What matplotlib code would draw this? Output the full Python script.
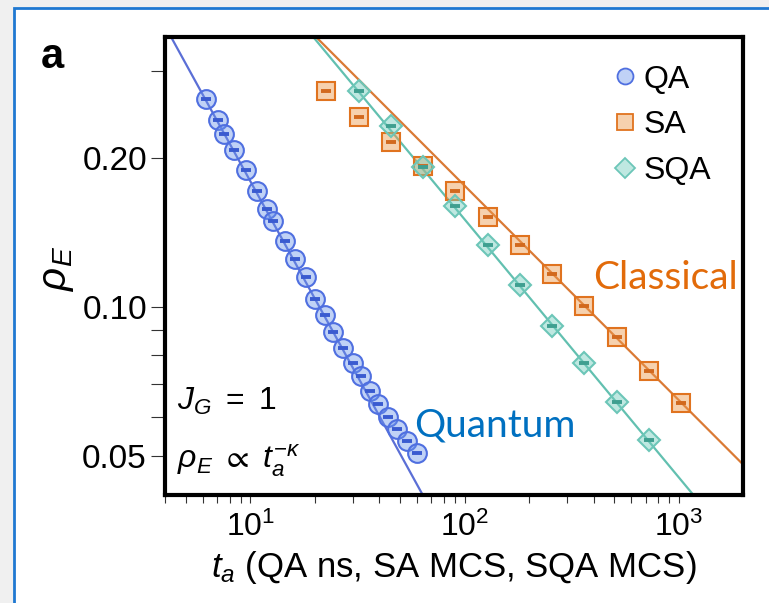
import numpy as np
import matplotlib
matplotlib.use('Agg')
import matplotlib.pyplot as plt
from matplotlib.patches import Rectangle
from matplotlib.lines import Line2D
from matplotlib.ticker import FixedLocator, NullFormatter, LogLocator

plt.rcParams['font.family'] = ['Liberation Sans', 'DejaVu Sans']
plt.rcParams['mathtext.fontset'] = 'custom'
plt.rcParams['mathtext.rm'] = 'Liberation Sans'
plt.rcParams['mathtext.it'] = 'Liberation Sans:italic'
plt.rcParams['mathtext.fallback'] = 'stixsans'

# QA (ns)
qa_t = [6.2, 7.1, 7.5, 8.4, 9.5, 10.7, 11.9, 12.7, 14.5, 16.1, 18.1, 20.1,
        22.2, 24.2, 27.2, 30.0, 32.9, 36.0, 39.6, 43.7, 48.3, 53.8, 59.9]
qa_rho = [0.263, 0.239, 0.224, 0.208, 0.189, 0.172, 0.158, 0.149, 0.136, 0.125,
          0.115, 0.104, 0.0965, 0.0893, 0.0827, 0.0771, 0.0725, 0.0679, 0.0638,
          0.0600, 0.0568, 0.0536, 0.0509]
# SA (MCS)
sa_t = [22.6, 32, 45.3, 64, 90.5, 128, 181, 256, 362, 512, 724, 1024]
sa_rho = [0.273, 0.242, 0.216, 0.193, 0.172, 0.152, 0.1335, 0.1165, 0.1006,
          0.0872, 0.0744, 0.0642]
# SQA (MCS)
sqa_t = [32, 45.3, 64, 90.5, 128, 181, 256, 362, 512, 724]
sqa_rho = [0.273, 0.232, 0.192, 0.160, 0.1335, 0.111, 0.0917, 0.0771, 0.0645, 0.054]

# power law fits rho = A * t^-kappa  (QA, SA, SQA)
fit_A = [1.10, 1.292, 1.657]
fit_kappa = [0.787, 0.433, 0.521]

labels = ['QA', 'SA', 'SQA']
markers = ['o', 's', 'D']
msizes = [13.5, 13, 11.5]
face = [(0.42, 0.58, 0.92, 0.42), (0.93, 0.60, 0.30, 0.45), (0.45, 0.80, 0.74, 0.45)]
edge = ['#4f6fe0', '#e0731f', '#6cc6b8']
dash = ['#3a5bd0', '#d2691e', '#3f9f90']
linec = ['#5b6fd6', '#da7a35', '#62c0b0']


def plot_series(ax, t, rho, i):
    tt = np.logspace(np.log10(3), np.log10(3000), 200)
    ax.plot(tt, fit_A[i] * tt ** (-fit_kappa[i]), color=linec[i], lw=1.6, zorder=2)
    ax.plot(t, rho, ls='none', marker=markers[i], ms=msizes[i], mfc=face[i],
            mec=edge[i], mew=1.5, zorder=3)
    ax.plot(t, rho, ls='none', marker='_', ms=7, mew=2.8, color=dash[i], zorder=4)


def main():
    fig = plt.figure(figsize=(7.69, 6.03), dpi=100, facecolor='#f0f0f0')
    bg = Rectangle((13.5 / 769, -0.01), 1.0, (603 - 7.5) / 603 + 0.01,
                   transform=fig.transFigure, facecolor='white',
                   edgecolor='#1f78d1', lw=2, zorder=-10)
    fig.patches.append(bg)

    ax = fig.add_axes([0.2146, 0.1791, 0.7516, 0.7595])
    plot_series(ax, qa_t, qa_rho, 0)
    plot_series(ax, sa_t, sa_rho, 1)
    plot_series(ax, sqa_t, sqa_rho, 2)

    ax.set_xscale('log')
    ax.set_yscale('log')
    ax.set_xlim(4, 1990)
    ax.set_ylim(0.0418, 0.351)

    ax.yaxis.set_major_locator(FixedLocator([0.05, 0.1, 0.2]))
    ax.set_yticklabels(['0.05', '0.10', '0.20'])
    ax.yaxis.set_minor_locator(FixedLocator([0.06, 0.07, 0.08, 0.09, 0.3]))
    ax.yaxis.set_minor_formatter(NullFormatter())
    ax.xaxis.set_major_locator(FixedLocator([10, 100, 1000]))
    ax.set_xticklabels(['$10^1$', '$10^2$', '$10^3$'])
    ax.xaxis.set_minor_locator(LogLocator(base=10, subs=np.arange(2, 10)))
    ax.xaxis.set_minor_formatter(NullFormatter())

    for s in ax.spines.values():
        s.set_linewidth(3)
    ax.tick_params(axis='y', which='both', direction='out', length=10, width=0.8,
                   color='#333333', labelsize=24, pad=3)
    ax.tick_params(axis='x', which='both', direction='out', length=6, width=0.8,
                   color='#333333', labelsize=23, pad=6)

    ax.set_xlabel(r'$t_a$ (QA ns, SA MCS, SQA MCS)', fontsize=25, labelpad=4)
    fig.text(0.074, 0.555, r'$\rho_E$', rotation=90, fontsize=29,
             ha='center', va='center')
    fig.text(0.0676, 0.887, 'a', fontsize=30, fontweight='bold', ha='center',
             va='baseline')

    fig.text(0.230, 0.320, r'$J_G\ =\ 1$', fontsize=23, va='baseline')
    fig.text(0.230, 0.224, r'$\rho_E\ \propto\ t_a^{-\kappa}$', fontsize=23,
             va='baseline')

    fig.text(0.538, 0.295, 'Quantum', color='#0070c0', fontsize=28,
             family='Lato', va='center')
    fig.text(0.771, 0.539, 'Classical', color='#e26b0a', fontsize=28,
             family='Lato', va='center')

    handles = [Line2D([], [], ls='none', marker=markers[i], ms=msizes[i] * 0.85,
                      mfc=face[i], mec=edge[i], mew=1.3) for i in range(3)]
    ax.legend(handles, labels, loc='upper left', bbox_to_anchor=(0.773, 0.94),
              frameon=False, fontsize=23, borderaxespad=0, borderpad=0,
              handlelength=0.8, handletextpad=0.2, labelspacing=0.5)

    fig.savefig('out.png', dpi=100, facecolor=fig.get_facecolor())


if __name__ == '__main__':
    main()
